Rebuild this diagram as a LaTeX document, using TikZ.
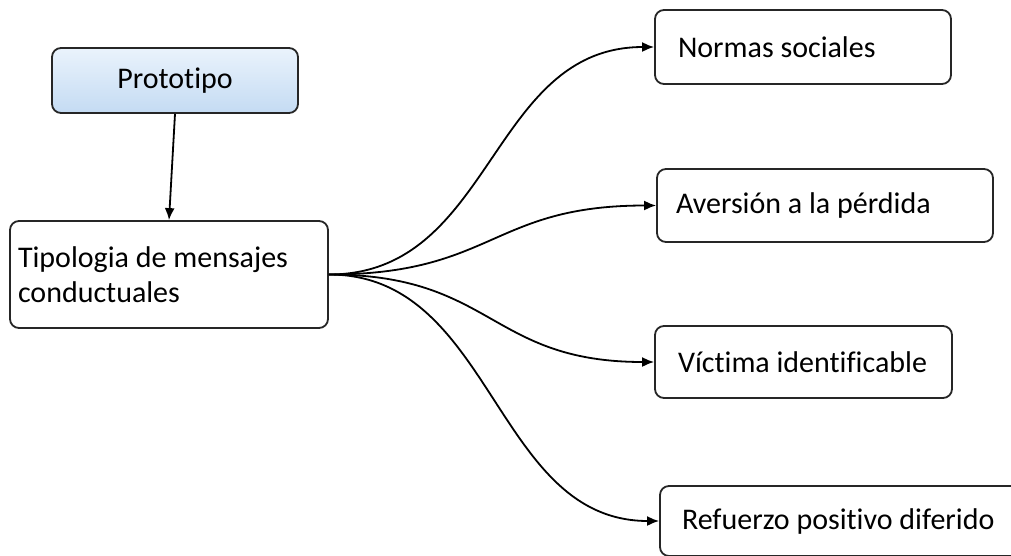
\documentclass[tikz,border=0pt]{standalone}
\usepackage{fontspec}
\setmainfont{Carlito}[Ligatures=NoCommon]
\usetikzlibrary{arrows.meta, positioning}

\definecolor{protoTop}{RGB}{234,243,252}
\definecolor{protoBottom}{RGB}{196,219,243}
\newcommand\boxfont{\fontsize{30}{35}\selectfont\hyphenpenalty=10000\relax}

\begin{document}
\begin{tikzpicture}[
    x=1pt, y=-1pt,
    msgbox/.style={rectangle, draw=black!85, rounded corners=9pt, line width=1.8pt, align=flush left, inner ysep=0pt, minimum height=73pt, font=\boxfont},
    protobox/.style={msgbox, align=center, top color=protoTop, bottom color=protoBottom},
    arrow/.style={-{Latex[length=12pt, width=10pt]}, line width=1.8pt}
]
\useasboundingbox (0,0) rectangle (1011,555);
\clip (0,0) rectangle (1011,555);

\node[protobox, minimum width=246pt, minimum height=65pt] (proto) at (175,80.5) {Prototipo};
\node[msgbox, inner xsep=8pt, text width=302pt, minimum height=107pt] (tipo) at (169,274.5) {Tipologia de mensajes\\conductuales};

\node[msgbox, inner xsep=23pt, text width=250pt, minimum height=74pt] (normas) at (803,47) {Normas sociales};
\node[msgbox, inner xsep=19pt, text width=298pt] (aversion) at (825,205.5) {Aversión a la pérdida};
\node[msgbox, inner xsep=23pt, text width=251pt, minimum height=72pt] (victima) at (803.5,362) {Víctima identificable};
\node[msgbox, inner xsep=22pt, text width=326pt, minimum height=70pt] (refuerzo) at (845,521) {Refuerzo positivo diferido};

\draw[arrow] (proto.south) -- (tipo.north);
\draw[arrow] (tipo.east) .. controls +(165,0) and +(-165,0) .. (normas.west);
\draw[arrow] (tipo.east) .. controls +(165,0) and +(-165,0) .. (aversion.west);
\draw[arrow] (tipo.east) .. controls +(165,0) and +(-165,0) .. (victima.west);
\draw[arrow] (tipo.east) .. controls +(165,0) and +(-165,0) .. (refuerzo.west);
\end{tikzpicture}
\end{document}
